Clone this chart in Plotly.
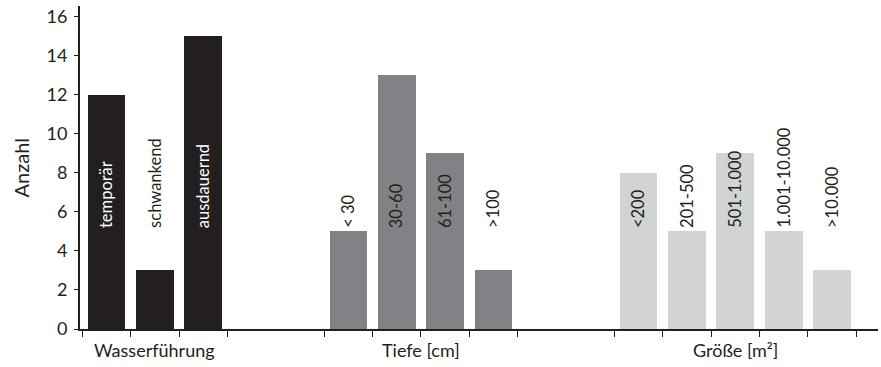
import plotly.graph_objects as go

# ---- data ----
wasser_labels = ["temporär", "schwankend", "ausdauernd"]
wasser_values = [12, 3, 15]
tiefe_labels = ["< 30", "30-60", "61-100", ">100"]
tiefe_values = [5, 13, 9, 3]
groesse_labels = ["<200", "201-500", "501-1.000", "1.001-10.000", ">10.000"]
groesse_values = [8, 5, 9, 5, 3]
group_titles = ["Wasserführung", "Tiefe [cm]", "Größe [m²]"]
y_ticks = [0, 2, 4, 6, 8, 10, 12, 14, 16]
y_title = "Anzahl"

# ---- layout constants ----
DARK = "#231f20"
group_starts = [0, 5, 11]
group_colors = ["#231f20", "#808285", "#d1d3d4"]
label_colors = [["white", DARK, "white"],
                [DARK, DARK, DARK, DARK],
                [DARK] * 5]
FONT = "Lato"
label_base = 5.08

groups = [(wasser_labels, wasser_values),
          (tiefe_labels, tiefe_values),
          (groesse_labels, groesse_values)]

fig = go.Figure()
annotations = []
tickvals = []
for gi, (labels, values) in enumerate(groups):
    start = group_starts[gi]
    xs = [start + i + 0.5 for i in range(len(values))]
    fig.add_trace(go.Bar(x=xs, y=values, width=0.78,
                         marker=dict(color=group_colors[gi], line=dict(width=0)),
                         showlegend=False, hoverinfo="skip"))
    tickvals += [start + i for i in range(len(values) + 1)]
    for i, (lab, x) in enumerate(zip(labels, xs)):
        annotations.append(dict(x=x, y=label_base, xref="x", yref="y",
                                text=lab, textangle=-90, showarrow=False,
                                xanchor="center", yanchor="bottom",
                                font=dict(family=FONT, size=16.5, color=label_colors[gi][i])))
    annotations.append(dict(x=start + len(values) / 2, y=0, xref="x", yref="y",
                            yshift=-21, text=group_titles[gi], showarrow=False,
                            xanchor="center", yanchor="middle",
                            font=dict(family=FONT, size=18, color=DARK)))

annotations.append(dict(x=(20 - 80) / 798, y=0.5, xref="paper", yref="paper", text=y_title,
                        textangle=-90, showarrow=False, xanchor="center", yanchor="middle",
                        font=dict(family=FONT, size=20, color=DARK)))

fig.update_layout(
    width=881, height=367,
    margin=dict(l=80, r=3, t=6, b=38),
    plot_bgcolor="white", paper_bgcolor="white",
    bargap=0,
    annotations=annotations,
    xaxis=dict(range=[-0.05, 16.45], tickvals=tickvals, ticktext=[""] * len(tickvals),
               ticks="outside", ticklen=6, tickwidth=1, tickcolor=DARK,
               showline=True, linecolor=DARK, linewidth=2, showgrid=False, zeroline=False),
    yaxis=dict(range=[0, 16.56], tickvals=y_ticks, ticks="outside", ticklen=4,
               tickwidth=1, tickcolor=DARK, showline=True, linecolor=DARK, linewidth=2,
               showgrid=False, zeroline=False, ticklabelstandoff=3,
               tickfont=dict(family=FONT, size=18, color=DARK)),
    font=dict(family=FONT, color=DARK),
)

fig.write_html("out.html", config={"displayModeBar": False},
               post_script="document.body.style.margin='0';document.body.style.padding='0';")
